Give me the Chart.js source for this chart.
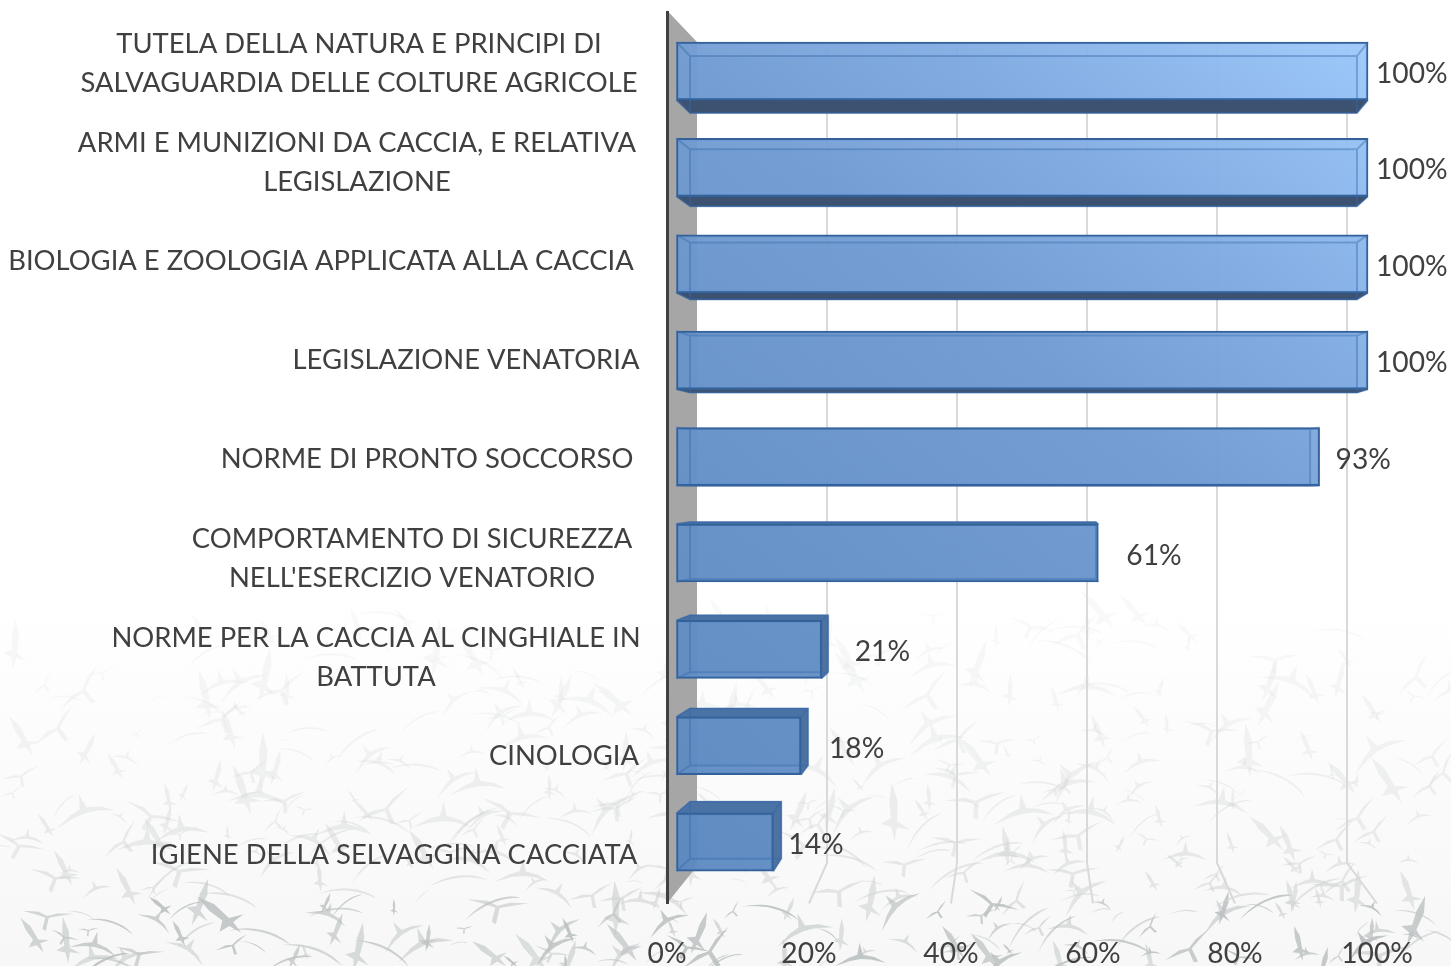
<!DOCTYPE html>
<html lang="it">
<head>
<meta charset="utf-8">
<title>Materie d'esame</title>
<script src="https://cdn.jsdelivr.net/npm/chart.js@4"></script>
<style>
html,body{margin:0;padding:0;width:1451px;height:966px;overflow:hidden;background:#fff}
#bg{position:absolute;left:0;top:0}
#c{position:absolute;left:0;top:0}
</style>
</head>
<body>
<svg id="bg" width="1451" height="966" xmlns="http://www.w3.org/2000/svg"></svg>
<canvas id="c" width="1451" height="966"></canvas>
<script>
// ---- data ----
const categories = [
  ["TUTELA DELLA NATURA E PRINCIPI DI", "SALVAGUARDIA DELLE COLTURE AGRICOLE"],
  ["ARMI E MUNIZIONI DA CACCIA, E RELATIVA", "LEGISLAZIONE"],
  "BIOLOGIA E ZOOLOGIA APPLICATA ALLA CACCIA",
  "LEGISLAZIONE VENATORIA",
  "NORME DI PRONTO SOCCORSO",
  ["COMPORTAMENTO DI SICUREZZA", "NELL'ESERCIZIO VENATORIO"],
  ["NORME PER LA CACCIA AL CINGHIALE IN", "BATTUTA"],
  "CINOLOGIA",
  "IGIENE DELLA SELVAGGINA CACCIATA"
];
const percentages = [100, 100, 100, 100, 93, 61, 21, 18, 14];
const axisTicks = [0, 20, 40, 60, 80, 100];

// ---- layout (not data) ----
const labelCenters = [359, 357, 321, 466, 427, 412, 376, 564, 394];
const valueGaps = [8, 8, 8, 8, 16, 28, 33, 28, 15];
const FONT = "Lato, Carlito, Calibri, sans-serif";
const TEXT = "#404040";

// Decorative backdrop only: faint flock of birds at the foot of the page.
(function () {
  const svg = document.getElementById("bg");
  let seed = 20231;
  const next = () => (seed = (seed * 16807) % 2147483647) / 2147483647;
  const shapes = [
    "M0,0L-.35,-.1L-1,-.02L-.4,.03L-.05,.08L-.08,.55L.07,.6L.09,.06L.45,-.08L1,-.28L.4,-.18Z",
    "M-1,.1C-.6,-.1-.2,-.16.1,-.14C.5,-.12.8,-.02 1,.14C.7,.02.4,-.06.1,-.07C-.3,-.08-.7,-.02-1,.1Z",
    "M-.1,-1L.1,-.45L.1,.2L.5,.45L.1,.38L.02,.8L-.08,.38L-.42,.28L-.1,.1L-.16,-.4Z",
    "M-1,.22L-.45,-.02L-.1,-.1L.05,-.55L.12,-.08L.55,.06L.95,.34L.4,.14L.02,.08L-.4,.1Z"
  ];
  let out = '<defs><linearGradient id="g" x1="0" y1="0" x2="0" y2="1"><stop offset="0" stop-color="#fff"/><stop offset=".62" stop-color="#fff"/><stop offset="1" stop-color="#f7f7f7"/></linearGradient></defs><rect width="1451" height="966" fill="url(#g)"/>';
  for (let i = 0; i < 560; i++) {
    const y = 610 + 356 * Math.pow(next(), 0.72);
    const x = next() * 1451;
    const t = (y - 610) / 356;
    const s = 8 + next() * 24;
    const rot = -50 + next() * 80;
    const shape = shapes[Math.floor(next() * shapes.length)];
    const tone = t > 0.82 ? "#bcc1c1" : "#d2d5d5";
    const op = t > 0.82 ? 0.45 + 0.5 * next() : 0.15 + 0.7 * t * t;
    out += '<path d="' + shape + '" fill="' + tone + '" opacity="' + op.toFixed(2) +
      '" transform="translate(' + x.toFixed(1) + ' ' + y.toFixed(1) + ') rotate(' + rot.toFixed(0) + ') scale(' + s.toFixed(1) + ')"/>';
  }
  svg.innerHTML = out;
})();

function poly(ctx, pts, fill, stroke, lw) {
  ctx.beginPath();
  pts.forEach((p, i) => (i ? ctx.lineTo(p[0], p[1]) : ctx.moveTo(p[0], p[1])));
  ctx.closePath();
  if (fill) { ctx.fillStyle = fill; ctx.fill(); }
  if (stroke) { ctx.strokeStyle = stroke; ctx.lineWidth = lw || 1; ctx.stroke(); }
}

function boxes(chart) {
  const s = chart.scales, half = 28.5;
  return chart.getDatasetMeta(0).data.map((bar, i) => {
    const fh = bar.height / 2;
    const cy = s.yBack.getPixelForValue(i);
    return {
      fl: bar.base, fr: bar.x, ft: bar.y - fh, fb: bar.y + fh,
      bl: s.xBack.getPixelForValue(0) + 2.5, br: s.xBack.getPixelForValue(percentages[i]),
      bt: cy - half, bb: cy + half
    };
  });
}

const chart3d = {
  id: "chart3d",
  beforeDraw(chart) {
    const { ctx, scales: s, chartArea: a } = chart;
    // centre each multi-line category label on its own axis
    const items = s.y.getLabelItems(a);
    items.forEach((item, i) => {
      if (item.options.textAlign !== "center") {
        item.options.translation = [labelCenters[i], item.options.translation[1] + 1.5];
      }
      item.options.textAlign = "center";
    });
    ctx.save();
    // side wall
    const wallX = s.xGrid.getPixelForValue(0);
    const x0 = s.x.getPixelForValue(0);
    poly(ctx, [[x0, a.top - 2], [wallX, 42], [wallX, 866], [x0, a.bottom]], "#a6a6a6");
    // gridlines with their slanted floor segment
    ctx.strokeStyle = "#d9d9d9";
    ctx.lineWidth = 2;
    axisTicks.slice(1).forEach(v => {
      ctx.beginPath();
      ctx.moveTo(s.xGrid.getPixelForValue(v), 44);
      ctx.lineTo(s.xGrid.getPixelForValue(v), 863);
      ctx.lineTo(s.x.getPixelForValue(v), a.bottom);
      ctx.stroke();
    });
    ctx.restore();
  },
  beforeDatasetsDraw(chart) {
    const { ctx } = chart;
    ctx.save();
    boxes(chart).forEach(b => {
      // rear faces seen through the front
      poly(ctx, [[b.bl, b.bt], [b.br, b.bt], [b.br, b.bb], [b.bl, b.bb]], "rgba(85,130,185,.45)");
      if (b.bt < b.ft) poly(ctx, [[b.fl, b.ft], [b.bl, b.bt], [b.br, b.bt], [b.fr, b.ft]], "#4a72a4", "#3f6ba3", 1);
      if (b.bb > b.fb) poly(ctx, [[b.fl, b.fb], [b.bl, b.bb], [b.br, b.bb], [b.fr, b.fb]], "#3d5270", "#34598c", 1);
      if (b.br > b.fr) poly(ctx, [[b.fr, b.ft], [b.br, b.bt], [b.br, b.bb], [b.fr, b.fb]], "#4d72a2", "#3f6ba3", 1);
    });
    ctx.restore();
  },
  afterDatasetsDraw(chart) {
    const { ctx } = chart;
    ctx.save();
    const metaBars = chart.getDatasetMeta(0).data;
    boxes(chart).forEach((b, i) => {
      // inner edges of the box, showing through the translucent front
      ctx.strokeStyle = "rgba(55,105,170,.42)";
      ctx.lineWidth = 2;
      ctx.beginPath();
      ctx.moveTo(b.fl, b.ft); ctx.lineTo(b.bl, b.bt);
      ctx.moveTo(b.fr, b.ft); ctx.lineTo(b.br, b.bt);
      ctx.moveTo(b.fl, b.fb); ctx.lineTo(b.bl, b.bb);
      ctx.moveTo(b.fr, b.fb); ctx.lineTo(b.br, b.bb);
      ctx.rect(b.bl, b.bt, b.br - b.bl, b.bb - b.bt);
      ctx.stroke();
      // value label
      ctx.fillStyle = TEXT;
      ctx.font = "28.2px " + FONT;
      ctx.textAlign = "left";
      ctx.textBaseline = "middle";
      ctx.fillText(percentages[i] + "%", metaBars[i].x + valueGaps[i], metaBars[i].y + 3);
    });
    ctx.restore();
  }
};

const ctx = document.getElementById("c").getContext("2d");

const barFill = c => {
  const g = c.chart.ctx.createLinearGradient(1368, 42, 677, 871);
  g.addColorStop(0, "rgba(156,200,251,.94)");
  g.addColorStop(0.25, "rgba(128,171,226,.94)");
  g.addColorStop(0.42, "rgba(113,156,211,.94)");
  g.addColorStop(0.7, "rgba(101,145,200,.94)");
  g.addColorStop(1, "rgba(90,136,192,.94)");
  return g;
};

const hiddenLinear = (min, max, extra) => Object.assign({ type: "linear", display: false, min, max, offset: false }, extra);

new Chart(ctx, {
  type: "bar",
  plugins: [chart3d],
  data: {
    labels: categories,
    datasets: [{
      label: "%",
      data: percentages.map((v, i) => ({ x: v, y: i })),
      xAxisID: "xBar",
      yAxisID: "yBar",
      backgroundColor: barFill,
      borderColor: "#33629b",
      borderWidth: 2,
      borderSkipped: false,
      barThickness: 58
    }]
  },
  options: {
    indexAxis: "y",
    responsive: false,
    animation: false,
    devicePixelRatio: 1,
    layout: { padding: { left: 0, right: 74, top: 12.5, bottom: 0 } },
    plugins: { legend: { display: false }, tooltip: { enabled: false }, title: { display: false } },
    scales: {
      // visible axes: tick labels and category labels
      x: {
        type: "linear", position: "bottom", min: 0, max: 100,
        grid: { display: false, drawTicks: false },
        border: { display: false },
        afterBuildTicks: sc => { sc.ticks = axisTicks.map(value => ({ value })); },
        ticks: {
          font: { family: FONT, size: 28.2 }, color: TEXT, padding: 33, maxRotation: 0,
          autoSkip: false, callback: v => v + "%"
        },
        afterFit: sc => { sc.height = 62.5; sc.paddingLeft = 0; sc.paddingRight = 0; }
      },
      y: {
        type: "category", position: "left", labels: categories,
        grid: { display: false, drawTicks: false },
        border: { display: true, color: "#404040", width: 3 },
        ticks: {
          font: { family: FONT, size: 27.4, lineHeight: 39.5 / 27.4 }, color: TEXT,
          autoSkip: false, maxRotation: 0, padding: 0
        },
        afterFit: sc => { sc.width = 667; sc.paddingTop = 0; sc.paddingBottom = 0; }
      },
      // perspective planes of the 3D box, sharing the same plot area
      xBar: hiddenLinear(-1.374, 101.3, { position: "bottom" }),
      yBar: hiddenLinear(-0.607, 8.636, { position: "left", reverse: true }),
      xBack: hiddenLinear(-3.062, 102.99, { position: "bottom" }),
      yBack: hiddenLinear(-0.7725, 8.787, { position: "left", reverse: true }),
      xGrid: hiddenLinear(-4.615, 104.615, { position: "bottom" })
    }
  }
});
</script>
</body>
</html>
